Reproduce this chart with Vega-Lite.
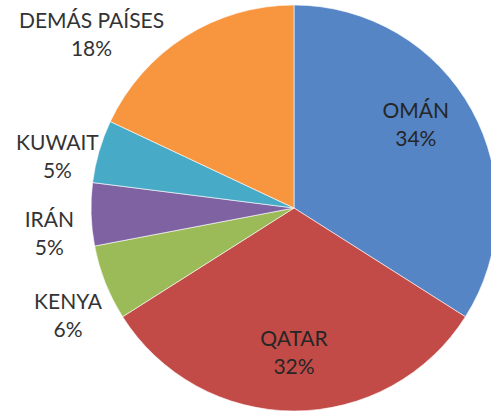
{
  "$schema": "https://vega.github.io/schema/vega-lite/v6.json",
  "width": 394,
  "height": 406,
  "autosize": "none",
  "padding": {"left": 97, "top": 5, "right": 0, "bottom": 0},
  "background": "white",
  "config": {"view": {"stroke": null}},
  "data": {
    "values": [
      {"pais": "OMÁN", "pct": 34, "orden": 1, "etiqueta": "OMÁN\n34%"},
      {"pais": "QATAR", "pct": 32, "orden": 2, "etiqueta": "QATAR\n32%"},
      {"pais": "KENYA", "pct": 6, "orden": 3, "etiqueta": "KENYA\n6%"},
      {"pais": "IRÁN", "pct": 5, "orden": 4, "etiqueta": "IRÁN\n5%"},
      {"pais": "KUWAIT", "pct": 5, "orden": 5, "etiqueta": "KUWAIT\n5%"},
      {"pais": "DEMÁS PAÍSES", "pct": 18, "orden": 6, "etiqueta": "DEMÁS PAÍSES\n18%"}
    ]
  },
  "encoding": {
    "theta": {"field": "pct", "type": "quantitative", "stack": true},
    "order": {"field": "orden", "type": "quantitative"}
  },
  "layer": [
    {
      "mark": {"type": "arc", "outerRadius": 203, "stroke": "#ffffff", "strokeWidth": 0.6},
      "encoding": {
        "color": {
          "field": "pais",
          "type": "nominal",
          "legend": null,
          "scale": {
            "domain": ["OMÁN", "QATAR", "KENYA", "IRÁN", "KUWAIT", "DEMÁS PAÍSES"],
            "range": ["#5585C5", "#C24B48", "#9ABB58", "#7F62A2", "#47ABC8", "#F8953F"]
          }
        }
      }
    },
    {
      "mark": {"type": "text", "radius": 155, "thetaOffset": -0.164, "font": "Lato", "fontSize": 21, "lineBreak": "\n", "lineHeight": 28, "color": "#262626"},
      "encoding": {
        "text": {"condition": {"test": "datum.pais === 'OMÁN'", "field": "etiqueta"}, "value": ""}
      }
    },
    {
      "mark": {"type": "text", "radius": 132, "font": "Lato", "fontSize": 21, "lineBreak": "\n", "lineHeight": 28, "color": "#262626"},
      "encoding": {
        "text": {"condition": {"test": "datum.pais === 'QATAR'", "field": "etiqueta"}, "value": ""}
      }
    },
    {
      "mark": {"type": "text", "radius": 245, "thetaOffset": -0.02, "font": "Lato", "fontSize": 21, "lineBreak": "\n", "lineHeight": 28, "color": "#333333"},
      "encoding": {
        "text": {"condition": {"test": "datum.pais === 'KENYA' || datum.pais === 'IRÁN' || datum.pais === 'KUWAIT'", "field": "etiqueta"}, "value": ""}
      }
    },
    {
      "mark": {"type": "text", "radius": 275, "thetaOffset": -0.262, "font": "Lato", "fontSize": 21, "lineBreak": "\n", "lineHeight": 28, "color": "#333333"},
      "encoding": {
        "text": {"condition": {"test": "datum.pais === 'DEMÁS PAÍSES'", "field": "etiqueta"}, "value": ""}
      }
    }
  ]
}
